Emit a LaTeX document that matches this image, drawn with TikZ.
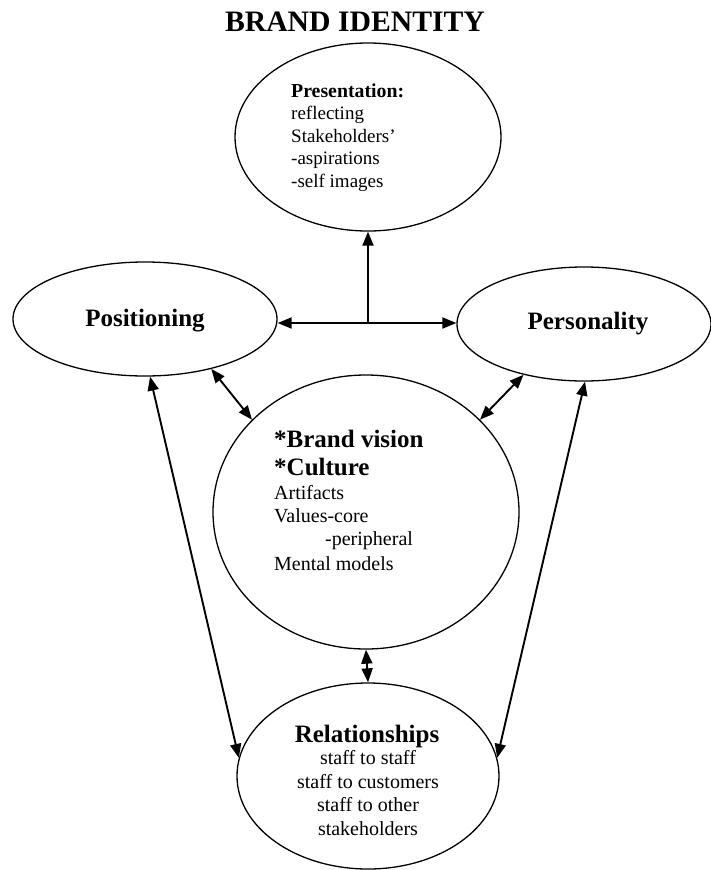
\documentclass[tikz,border=0pt]{standalone}
\usepackage{fontspec}
\setmainfont{Liberation Serif}
\usetikzlibrary{shapes.geometric,arrows.meta}
\begin{document}
\begin{tikzpicture}[x=1pt,y=-1pt,
  bubble/.style={draw, line width=1.3pt, ellipse, inner sep=0pt},
  tip/.tip={Triangle[length=14pt,width=11pt]},
  link/.style={line width=1.9pt, {tip}-{tip}},
  uplink/.style={line width=1.9pt, -{tip}},
  txt/.style={inner sep=0pt, anchor=base west},
  ctxt/.style={inner sep=0pt, anchor=base},
  head/.style={font=\fontsize{25}{30}\selectfont\bfseries},
  body/.style={font=\fontsize{20}{24}\selectfont},
  phead/.style={font=\fontsize{19.8}{24}\selectfont\bfseries},
  pbody/.style={font=\fontsize{19}{23}\selectfont}
]
\useasboundingbox (0,0) rectangle (711,870);

% title
\node[ctxt, font=\fontsize{29.7}{34}\selectfont\bfseries] (title) at (355,31) {BRAND IDENTITY};

% the five ellipses
\node[bubble, minimum width=266pt, minimum height=188pt] (pres) at (368,137) {};
\node[bubble, minimum width=264pt, minimum height=114pt] (pos)  at (145,319) {};
\node[bubble, minimum width=254pt, minimum height=114pt] (per)  at (584,324) {};
\node[bubble, minimum width=306pt, minimum height=274pt] (vis)  at (366,512) {};
\node[bubble, minimum width=262pt, minimum height=186pt] (rel)  at (368,776) {};

% presentation text
\node[txt, phead] (p1) at (291,97)    {Presentation:};
\node[txt, pbody] (p2) at (291,119.5) {reflecting};
\node[txt, pbody] (p3) at (291,142)   {Stakeholders’};
\node[txt, pbody] (p4) at (291,164.5) {-aspirations};
\node[txt, pbody] (p5) at (291,187)   {-self images};

% side labels
\node[ctxt, head] (posl) at (145,326) {Positioning};
\node[ctxt, head] (perl) at (588,329) {Personality};

% vision and culture text
\node[txt, head] (v1) at (274,447) {*Brand vision};
\node[txt, head] (v2) at (274,475) {*Culture};
\node[txt, body] (v3) at (274,499) {Artifacts};
\node[txt, body] (v4) at (274,522) {Values-core};
\node[txt, body] (v5) at (325,545) {-peripheral};
\node[txt, body] (v6) at (274,570) {Mental models};

% relationships text
\node[ctxt, head] (r1) at (367,742) {Relationships};
\node[ctxt, body] (r2) at (368,764) {staff to staff};
\node[ctxt, body] (r3) at (368,788) {staff to customers};
\node[ctxt, body] (r4) at (368,811) {staff to other};
\node[ctxt, body] (r5) at (368,835) {stakeholders};

% connectors
\coordinate (j) at (368,323);
\draw[link] (j -| pos.east) -- (j -| per.west);
\draw[uplink] (j) -- (pres.south);
\draw[link] (pos.-37) -- (vis.141);
\draw[link] (per.220) -- (vis.39);
\draw[link] (pos.-85) -- (rel.172);
\draw[link] (per.-89) -- (rel.8);
\draw[link] (vis.south) -- (rel.north);
\end{tikzpicture}
\end{document}
